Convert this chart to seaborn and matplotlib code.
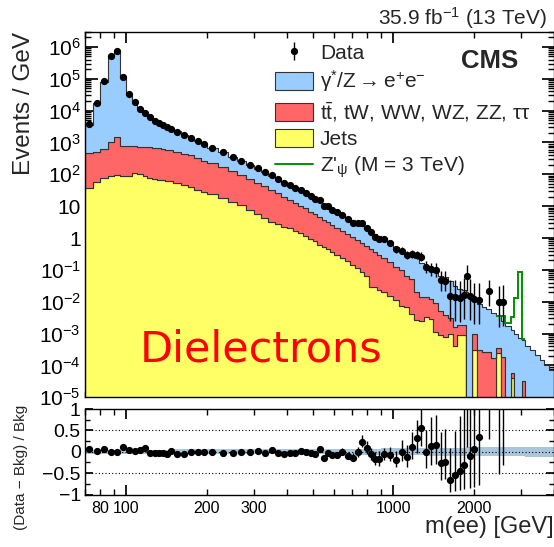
import numpy as np
import pandas as pd
import matplotlib
matplotlib.use("Agg")
import matplotlib.pyplot as plt
import seaborn as sns
from matplotlib.patches import Patch
from matplotlib.lines import Line2D
from matplotlib.ticker import FixedLocator, FixedFormatter, NullFormatter

# ---------------- data ----------------
# bin edges in GeV (variable width)
mass_edges = [70, 75, 80, 85, 90, 95, 100, 105, 110, 115, 120, 125, 130, 135, 140, 145, 150,
              160, 170, 180, 190, 200,
              220, 240, 260, 280, 300, 320, 340, 360, 380, 400, 420, 440, 460, 480, 500, 520,
              540, 560, 580, 600,
              630, 660, 690, 720, 750, 780, 810, 840, 870, 900,
              950, 1000, 1050, 1100, 1150, 1200, 1250, 1300,
              1355, 1413, 1473, 1536, 1601, 1669, 1740, 1814, 1874, 1906, 1971, 2055, 2142,
              2233, 2328, 2427, 2530, 2630, 2768, 2843, 2928, 3030, 3116, 3248, 3386, 3530,
              3680, 3837, 4000]

# events / GeV per bin
dy_rate = [3048, 16593, 78354, 535950, 759500, 103210, 32330, 17490, 10155, 6760,
           5580, 4200, 3380, 2930, 2510, 1980, 1746, 1292, 950, 789,
           622, 443, 340, 229, 165, 127, 97, 75, 58.5, 46.6,
           38.5, 29.7, 24.8, 20.6, 16.9, 14.4, 11.4, 9.7, 8.2, 7.0,
           5.9, 4.8, 3.8, 3.05, 2.45, 2.05, 1.65, 1.35, 1.15, 0.96,
           0.82, 0.75, 0.57, 0.42, 0.30, 0.28, 0.24, 0.209, 0.153, 0.1147,
           0.0784, 0.0771, 0.059, 0.0562, 0.0416, 0.0297, 0.0226, 0.0223, 0.020, 0.0173,
           0.0103, 0.0082, 0.0068, 0.0055, 0.0042, 0.0031, 0.0023, 0.0017, 0.0012, 0.00095,
           0.00075, 0.00058, 0.00042, 0.0003, 0.00021, 0.00015, 0.000105, 0.000072]

top_rate = [416, 449, 567, 961, 1405, 703, 683, 653, 645, 643,
            624, 607, 593, 565, 528, 499, 458, 404, 351, 288,
            242, 196, 147.5, 114, 84.5, 64.5, 49.4, 37.8, 29.7, 23.2,
            17.2, 14.0, 10.8, 8.6, 7.35, 5.85, 4.82, 3.98, 3.28, 2.65,
            2.23, 1.81, 1.46, 1.16, 0.96, 0.735, 0.615, 0.518, 0.42, 0.342,
            0.276, 0.21, 0.1645, 0.109, 0.0925, 0.0582, 0.046, 0.0174, 0.012, 0.0109,
            0.0098, 0.00775, 0.0041, 0.003, 0.002, 0.0012, 0.001, 0.001, 0.0, 0.0,
            0.0007, 0.0003, 0.00027, 0.00027, 0.00017, 0.00011, 0.00019, 0.0, 0.00002, 0.0,
            0.0, 0.000032, 0, 0, 0, 0, 0, 0]

jets_rate = [36, 58, 79, 89, 95, 87, 87, 107, 100, 87,
             76, 73, 67, 65, 62, 61, 52, 45.6, 38.9, 31.8,
             28, 24, 17.5, 13.7, 10.5, 7.5, 5.6, 4.2, 3.3, 2.8,
             2.3, 2.0, 1.7, 1.4, 1.15, 0.95, 0.78, 0.62, 0.52, 0.45,
             0.37, 0.29, 0.24, 0.19, 0.14, 0.115, 0.085, 0.062, 0.03, 0.028,
             0.024, 0.020, 0.0155, 0.011, 0.0075, 0.0068, 0.004, 0.0026, 0.0024, 0.0034,
             0.0028, 0.00115, 0.0009, 0.0008, 0.001, 0.0004, 0.0009, 0.0009, 0.0, 0.0,
             0.0003, 0.0, 0.0, 0.0, 0.0, 0.00024, 0.0, 0.0, 0.00004, 0.0,
             0, 0, 0, 0, 0, 0, 0, 0]

# Z'_psi (3 TeV) signal, events / GeV
zprime_rate = [0] * 75 + [0.0001, 0.0011, 0.0004, 0.0021, 0.0118, 0.086, 0.00005,
                          0, 0, 0, 0, 0, 0]

# observed events per bin
data_counts = [18750, 87500, 420000, 2685000, 3745000, 572500, 172000, 92000, 56750, 40650,
               30450, 23850, 19750, 17100, 14800, 12800, 21500, 16600, 13400, 11000,
               8850, 13260, 9700, 6920, 5200, 3920, 3090, 2290, 1916, 1394,
               1087, 893, 724, 622, 504, 414, 326, 306, 203, 197,
               157, 191, 164, 120, 92, 86, 87, 63, 45, 33,
               28, 46, 35, 22, 20, 15, 16, 15, 13, 7,
               6, 6, 3, 3, 1, 1, 1, 1, 2, 1,
               1, 1, 0, 2, 0, 1, 1, 0, 0, 0,
               0, 0, 0, 0, 0, 0, 0, 0]

# relative background uncertainty per bin
bkg_rel_unc = ([0.05] * 16 + [0.06] * 25 + [0.07] * 10 + [0.08] * 8 + [0.09] * 9
               + [0.10] * 8 + [0.11] * 6 + [0.12] * 6)

process_names = [r"$\mathrm{\gamma}^{*}/\mathrm{Z} \rightarrow \mathrm{e}^{+}\mathrm{e}^{-}$",
                 r"$\mathrm{t\bar{t}}$, tW, WW, WZ, ZZ, $\mathrm{\tau\tau}$",
                 "Jets"]
process_colors = ["#99ccff", "#ff6666", "#ffff66"]
zprime_label = r"Z$'_{\mathrm{\psi}}$ (M = 3 TeV)"

# ---------------- style ----------------
sns.set_theme(style="ticks")
plt.rcParams["font.family"] = ["Liberation Sans", "DejaVu Sans"]
plt.rcParams["mathtext.fontset"] = "custom"
plt.rcParams["mathtext.rm"] = "Liberation Sans"
plt.rcParams["mathtext.it"] = "Liberation Sans:italic"
plt.rcParams["mathtext.bf"] = "Liberation Sans:bold"
plt.rcParams["axes.linewidth"] = 1.0
plt.rcParams["axes.edgecolor"] = "black"

edges = np.array(mass_edges, dtype=float)
centers = 0.5 * (edges[:-1] + edges[1:])
widths = np.diff(edges)
dy = np.array(dy_rate, dtype=float)
tt = np.array(top_rate, dtype=float)
jets = np.array(jets_rate, dtype=float)
sig = np.array(zprime_rate, dtype=float)
counts = np.array(data_counts, dtype=float)
unc = np.array(bkg_rel_unc, dtype=float)
bkg = dy + tt + jets

W, H = 554, 547
fig = plt.figure(figsize=(W / 100, H / 100), dpi=100)
ax = fig.add_axes([85 / W, 1 - 397.3 / H, 469 / W, (397.3 - 31.7) / H])
axr = fig.add_axes([85 / W, 1 - 494.5 / H, 469 / W, 85.5 / H])

# ---------------- stacked backgrounds ----------------
df = pd.DataFrame({
    "mass": np.tile(centers, 3),
    "rate": np.concatenate([dy, tt, jets]),
    "process": np.repeat(process_names, len(centers)),
})
sns.histplot(data=df, x="mass", weights="rate", hue="process", hue_order=process_names,
             bins=list(mass_edges), multiple="stack", element="step", fill=True,
             palette=process_colors, alpha=1.0, edgecolor="#333333", linewidth=0.8,
             legend=False, ax=ax)

ax.set_xscale("log")
ax.set_yscale("log", nonpositive="clip")

# signal stacked on the background
i0, i1 = 75, 82
ax.stairs((bkg + sig)[i0:i1], edges[i0:i1 + 1], baseline=None,
          color="#009000", linewidth=1.4, zorder=4)

# data points with Poisson (Gehrels) intervals
def gehrels(n):
    n = np.asarray(n, dtype=float)
    nn = np.maximum(n, 1)
    lo = np.where(n > 0, n - n * (1 - 1 / (9 * nn) - 1 / (3 * np.sqrt(nn))) ** 3, 0)
    hi = np.sqrt(n + 0.75) + 1
    return lo, hi

err_lo, err_hi = gehrels(counts)
m = counts > 0
dens = counts / widths
ax.errorbar(centers[m], dens[m], yerr=[err_lo[m] / widths[m], err_hi[m] / widths[m]],
            fmt="o", color="black", ms=4.2, elinewidth=1.0, capsize=0, zorder=5)

ax.set_xlim(70, 4000)
ax.set_ylim(1e-5, 3e6)

# ---------------- ratio panel ----------------
expected = bkg * widths
ratio = counts / expected - 1
axr.fill_between(edges, np.append(-unc, -unc[-1]), np.append(unc, unc[-1]), step="post",
                 color="#a9c6dc", lw=0, zorder=1)
for yv in (0.5, 0.0, -0.5):
    axr.axhline(yv, color="black", ls=(0, (1, 2)), lw=0.8, zorder=2)
axr.errorbar(centers[m], ratio[m], yerr=[err_lo[m] / expected[m], err_hi[m] / expected[m]],
             fmt="o", color="black", ms=4.2, elinewidth=1.0, capsize=0, zorder=5)
axr.set_xscale("log")
axr.set_xlim(70, 4000)
axr.set_ylim(-1, 1)

# ---------------- ticks ----------------
for a in (ax, axr):
    a.tick_params(which="both", direction="in", top=True, right=True, colors="black")

major_x = [100, 1000]
minor_x = [70, 80, 90, 200, 300, 400, 500, 600, 700, 800, 900, 2000, 3000, 4000]
minor_x_labels = ["", "80", "", "200", "300", "", "", "", "", "", "", "2000", "", ""]
for a in (ax, axr):
    a.xaxis.set_major_locator(FixedLocator(major_x))
    a.xaxis.set_minor_locator(FixedLocator(minor_x))
ax.xaxis.set_major_formatter(NullFormatter())
ax.xaxis.set_minor_formatter(NullFormatter())
axr.xaxis.set_major_formatter(FixedFormatter(["100", "1000"]))
axr.xaxis.set_minor_formatter(FixedFormatter(minor_x_labels))
axr.tick_params(axis="x", which="both", labelsize=11.5, pad=5)
ax.tick_params(axis="x", which="major", length=8)
ax.tick_params(axis="x", which="minor", length=4)
axr.tick_params(axis="x", which="major", length=7)
axr.tick_params(axis="x", which="minor", length=4)

y_major = [10.0 ** k for k in range(-5, 7)]
y_labels = [r"$10^{-5}$", r"$10^{-4}$", r"$10^{-3}$", r"$10^{-2}$", r"$10^{-1}$", "1", "10",
            r"$10^{2}$", r"$10^{3}$", r"$10^{4}$", r"$10^{5}$", r"$10^{6}$"]
ax.yaxis.set_major_locator(FixedLocator(y_major))
ax.yaxis.set_major_formatter(FixedFormatter(y_labels))
ax.yaxis.set_minor_locator(matplotlib.ticker.LogLocator(base=10, subs=np.arange(2, 10), numticks=30))
ax.yaxis.set_minor_formatter(NullFormatter())
ax.tick_params(axis="y", which="major", length=9, labelsize=15, pad=3)
ax.tick_params(axis="y", which="minor", length=4.5)

axr.yaxis.set_major_locator(FixedLocator([-1, -0.5, 0, 0.5, 1]))
axr.yaxis.set_major_formatter(FixedFormatter(["\u22121", "\u22120.5", "0", "0.5", "1"]))
axr.yaxis.set_minor_locator(FixedLocator([-0.75, -0.25, 0.25, 0.75]))
axr.tick_params(axis="y", which="major", length=6, labelsize=14, pad=3)
axr.tick_params(axis="y", which="minor", length=3.5)

# ---------------- labels ----------------
ax.set_xlabel("")
ax.set_ylabel("Events / GeV", fontsize=17.5, loc="top")
ax.yaxis.set_label_coords(-0.106, 1.0)
axr.set_ylabel("(Data \u2212 Bkg) / Bkg", fontsize=11, loc="top")
axr.yaxis.set_label_coords(-0.122, 1.05)
axr.set_xlabel("m(ee) [GeV]", fontsize=17, loc="right")
axr.xaxis.set_label_coords(1.0, -0.255)

fig.text(547 / W, 1 - 25 / H, r"35.9 fb$^{-1}$ (13 TeV)", ha="right", va="baseline", fontsize=15)
fig.text(461 / W, 1 - 68.3 / H, "CMS", ha="left", va="baseline", fontsize=18.5, fontweight="bold")
fig.text(140 / W, 1 - 362 / H, "Dielectrons", ha="left", va="baseline", fontsize=31,
         color="red", family=["DejaVu Sans"])

# ---------------- legend ----------------
data_handle = (Line2D([], [], color="black", marker="|", markersize=13, mew=1.0, linestyle="None"),
               Line2D([], [], color="black", marker="o", markersize=4.2, linestyle="None"))
handles = [data_handle]
for name, col in zip(process_names, process_colors):
    handles.append(Patch(facecolor=col, edgecolor="#333333", linewidth=0.8))
handles.append(Line2D([], [], color="#009000", linewidth=1.4))
labels = ["Data"] + process_names + [zprime_label]
fig.legend(handles, labels, loc="upper left", bbox_to_anchor=(275 / W, 1 - 43 / H),
           frameon=False, fontsize=15, borderpad=0, borderaxespad=0,
           handlelength=1.8, handleheight=0.92, handletextpad=0.35, labelspacing=0.26)

fig.savefig("out.png", dpi=100)
